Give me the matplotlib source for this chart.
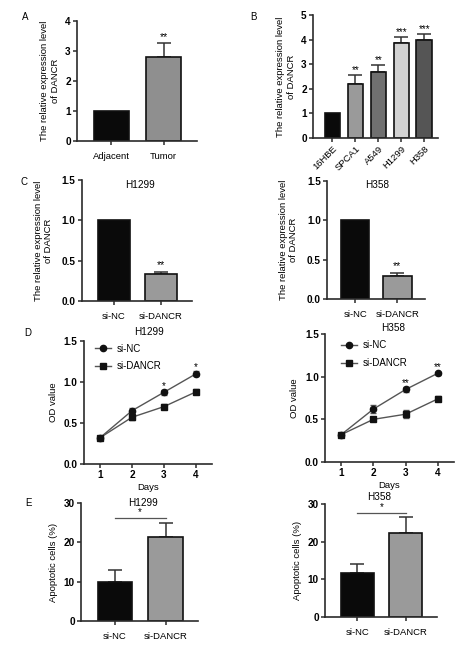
import matplotlib
matplotlib.use("Agg")
import matplotlib.pyplot as plt
from matplotlib.lines import Line2D

# panel A
a_labels = ["Adjacent", "Tumor"]
a_vals = [1.0, 2.8]
a_err = [0.0, 0.47]
a_stars = ["", "**"]

# panel B
b_labels = ["16HBE", "SPCA1", "A549", "H1299", "H358"]
b_vals = [1.0, 2.18, 2.67, 3.85, 4.0]
b_err = [0.0, 0.37, 0.31, 0.26, 0.22]
b_stars = ["", "**", "**", "***", "***"]
b_colors = ["#0a0a0a", "#9a9a9a", "#707070", "#d2d2d2", "#555555"]

# panel C
si_labels = ["si-NC", "si-DANCR"]
c_h1299 = [1.0, 0.33]
c_h1299_err = [0.0, 0.03]
c_h358 = [1.0, 0.29]
c_h358_err = [0.0, 0.04]

# panel D
days = [1, 2, 3, 4]
d_h1299_nc = [0.32, 0.65, 0.875, 1.10]
d_h1299_nc_err = [0.02, 0.03, 0.03, 0.03]
d_h1299_si = [0.32, 0.57, 0.70, 0.88]
d_h1299_si_err = [0.02, 0.03, 0.03, 0.03]
d_h1299_stars = ["", "", "*", "*"]
d_h358_nc = [0.32, 0.62, 0.85, 1.04]
d_h358_nc_err = [0.02, 0.05, 0.03, 0.02]
d_h358_si = [0.32, 0.50, 0.56, 0.74]
d_h358_si_err = [0.02, 0.02, 0.05, 0.03]
d_h358_stars = ["", "", "**", "**"]

# panel E
e_h1299 = [10.0, 21.3]
e_h1299_err = [3.0, 3.6]
e_h358 = [11.6, 22.3]
e_h358_err = [2.6, 4.2]

W, H = 474, 649
plt.rcParams["font.family"] = ["Liberation Sans", "DejaVu Sans"]
fig = plt.figure(figsize=(W / 100, H / 100), dpi=100)

AX_COL = "#2b2b2b"


def px_axes(x0, y0, x1, y1):
    return fig.add_axes([x0 / W, 1 - y1 / H, (x1 - x0) / W, (y1 - y0) / H])


def style(ax):
    for s in ["top", "right"]:
        ax.spines[s].set_visible(False)
    for s in ["left", "bottom"]:
        ax.spines[s].set_color(AX_COL)
        ax.spines[s].set_linewidth(1.2)
    ax.tick_params(direction="out", length=3, width=1.1, color=AX_COL,
                   labelsize=6.8, pad=1.5)
    ax.tick_params(axis="y", labelsize=7.2)
    for t in ax.get_yticklabels():
        t.set_fontweight("bold")


def bar_panel(ax, labels, vals, errs, colors, xlim, ylim, yticks, fmt):
    x = list(range(len(vals)))
    ax.bar(x, vals, width=0.68, color=colors, edgecolor="#111111",
           linewidth=1.2, zorder=2)
    for xi, v, e in zip(x, vals, errs):
        if e > 0:
            ax.errorbar(xi, v, yerr=[[0], [e]], fmt="none", ecolor="#333333",
                        elinewidth=1.1, capsize=5, capthick=1.1, zorder=1)
    ax.set_xlim(*xlim)
    ax.set_ylim(*ylim)
    ax.set_yticks(yticks)
    ax.set_yticklabels([fmt.format(t) for t in yticks])
    ax.set_xticks(x)
    ax.set_xticklabels(labels)
    style(ax)


ylab = "The relative expression level\nof DANCR"

# A
ax = px_axes(77, 21, 197, 141)
bar_panel(ax, a_labels, a_vals, a_err, ["#0a0a0a", "#8f8f8f"],
          (-0.66, 1.64), (0, 4), [0, 1, 2, 3, 4], "{:d}")
for i, (v, e, s) in enumerate(zip(a_vals, a_err, a_stars)):
    ax.text(i, v + e + 0.03, s, ha="center", va="bottom", fontsize=7.5)
ax.set_ylabel(ylab, fontsize=6.8, labelpad=4)
ax.tick_params(axis="x", pad=5)
fig.text(25 / W, 1 - 17 / H, "A", fontsize=7, ha="center", va="center")

# B
ax = px_axes(313, 15, 438, 138)
bar_panel(ax, b_labels, b_vals, b_err, b_colors,
          (-0.85, 4.6), (0, 5), [0, 1, 2, 3, 4, 5], "{:d}")
for i, (v, e, s) in enumerate(zip(b_vals, b_err, b_stars)):
    ax.text(i, v + e + 0.0, s, ha="center", va="bottom", fontsize=7)
plt.setp(ax.get_xticklabels(), rotation=45, ha="right", rotation_mode="anchor")
ax.set_ylabel(ylab, fontsize=6.8, labelpad=4)
fig.text(253 / W, 1 - 17 / H, "B", fontsize=7, ha="center", va="center")

# C
for rect, vals, errs, title, tpos in [
        ((82, 180, 192, 301), c_h1299, c_h1299_err, "H1299", (0.53, 0.96)),
        ((327, 181, 425, 299), c_h358, c_h358_err, "H358", (0.51, 0.97))]:
    ax = px_axes(*rect)
    bar_panel(ax, si_labels, vals, errs, ["#0a0a0a", "#9a9a9a"],
              (-0.67, 1.66), (0, 1.5), [0, 0.5, 1.0, 1.5], "{:.1f}")
    ax.text(1, vals[1] + errs[1] + 0.02, "**", ha="center", va="bottom",
            fontsize=7.5)
    ax.text(tpos[0], tpos[1], title, transform=ax.transAxes, ha="center",
            va="center", fontsize=7.2)
    ax.set_ylabel(ylab, fontsize=6.8, labelpad=6)
    ax.tick_params(axis="x", pad=5)
fig.text(24 / W, 1 - 182 / H, "C", fontsize=7, ha="center", va="center")

# D
for rect, nc, nce, si, sie, stars, title, tpos, lpos in [
        ((84, 341, 212, 464), d_h1299_nc, d_h1299_nc_err, d_h1299_si,
         d_h1299_si_err, d_h1299_stars, "H1299", (0.51, 1.07), (0.02, 1.05)),
        ((325, 334, 454, 462), d_h358_nc, d_h358_nc_err, d_h358_si,
         d_h358_si_err, d_h358_stars, "H358", (0.53, 1.05), (0.06, 1.02))]:
    ax = px_axes(*rect)
    ax.errorbar(days, nc, yerr=nce, color="#555555", lw=1.0, marker="o",
                ms=4.5, mfc="#111111", mec="#111111", ecolor="#555555",
                elinewidth=1.0, capsize=2.5, zorder=3)
    ax.errorbar(days, si, yerr=sie, color="#555555", lw=1.0, marker="s",
                ms=4.5, mfc="#111111", mec="#111111", ecolor="#555555",
                elinewidth=1.0, capsize=2.5, zorder=3)
    for d, v, e, s in zip(days, nc, nce, stars):
        ax.text(d, v + e - 0.01, s, ha="center", va="bottom", fontsize=7)
    ax.set_xlim(0.5, 4.5)
    ax.set_ylim(0, 1.5)
    ax.set_xticks(days)
    ax.set_yticks([0, 0.5, 1.0, 1.5])
    ax.set_yticklabels(["0.0", "0.5", "1.0", "1.5"])
    style(ax)
    ax.tick_params(axis="x", labelsize=7.2)
    for t in ax.get_xticklabels():
        t.set_fontweight("bold")
    ax.set_xlabel("Days", fontsize=6.8, labelpad=2)
    ax.set_ylabel("OD value", fontsize=6.8, labelpad=4)
    ax.text(tpos[0], tpos[1], title, transform=ax.transAxes, ha="center",
            va="center", fontsize=7.2)
    handles = [
        Line2D([], [], color="#555555", lw=1.0, marker="o", ms=4.5,
               mfc="#111111", mec="#111111"),
        Line2D([], [], color="#555555", lw=1.0, marker="s", ms=4.5,
               mfc="#111111", mec="#111111"),
    ]
    ax.legend(handles, ["si-NC", "si-DANCR"], loc="upper left",
              bbox_to_anchor=lpos, frameon=False, fontsize=7,
              handlelength=1.6, handletextpad=0.6, labelspacing=0.8)
fig.text(28 / W, 1 - 333 / H, "D", fontsize=7, ha="center", va="center")

# E
for rect, vals, errs, title, tpos, brk in [
        ((81, 503, 198, 621), e_h1299, e_h1299_err, "H1299", (0.53, 1.0), 26.2),
        ((325, 504, 437, 617), e_h358, e_h358_err, "H358", (0.48, 1.06), 27.6)]:
    ax = px_axes(*rect)
    bar_panel(ax, si_labels, vals, errs, ["#0a0a0a", "#9a9a9a"],
              (-0.67, 1.64), (0, 30), [0, 10, 20, 30], "{:d}")
    ax.plot([0, 1], [brk, brk], color="#555555", lw=0.9)
    ax.text(0.5, brk + 0.2, "*", ha="center", va="bottom", fontsize=7)
    ax.text(tpos[0], tpos[1], title, transform=ax.transAxes, ha="center",
            va="center", fontsize=7.2)
    ax.set_ylabel("Apoptotic cells (%)", fontsize=6.8, labelpad=4)
    ax.tick_params(axis="x", pad=5)
fig.text(28 / W, 1 - 503 / H, "E", fontsize=7, ha="center", va="center")

fig.savefig("out.png", dpi=100)
